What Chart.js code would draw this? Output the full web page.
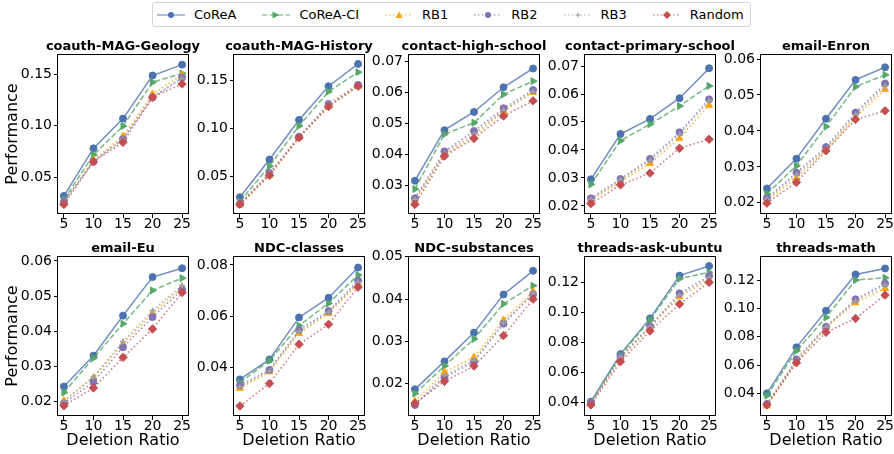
<!DOCTYPE html>
<html lang="en">
<head>
<meta charset="UTF-8">
<title>Deletion Ratio vs Performance</title>
<script src="https://cdn.jsdelivr.net/npm/chart.js"></script>
<style>
  body { margin: 0; background: #fff; width: 894px; height: 454px; position: relative; overflow: hidden; font-family: "DejaVu Sans", sans-serif; }
  canvas { position: absolute; }
  #legend { position: absolute; left: 152px; top: 2px; height: 25px; box-sizing: border-box; display: flex; align-items: center;
            padding: 0 6px 0 4px; border: 1px solid #d6d6d6; border-radius: 3px; font-size: 13px; color: #000; }
  .item { display: flex; align-items: center; margin-right: 26px; }
  .item:last-child { margin-right: 0; }
  .item svg { margin-right: 9px; }
</style>
</head>
<body>
<div id="legend"></div>
<script>
const ratios = [5, 10, 15, 20, 25]
const seriesNames = ["CoReA", "CoReA-CI", "RB1", "RB2", "RB3", "Random"]
const datasetNames = ["coauth-MAG-Geology", "coauth-MAG-History", "contact-high-school", "contact-primary-school", "email-Enron",
  "email-Eu", "NDC-classes", "NDC-substances", "threads-ask-ubuntu", "threads-math"]

// one row per dataset, one value per deletion ratio
const coreA = [
  [0.0316, 0.078, 0.107, 0.149, 0.1596],
  [0.0282, 0.0676, 0.109, 0.1443, 0.1676],
  [0.0314, 0.0478, 0.0537, 0.0617, 0.0678],
  [0.0295, 0.0457, 0.0511, 0.0585, 0.0692],
  [0.024, 0.0323, 0.0434, 0.0542, 0.0577],
  [0.0242, 0.033, 0.0444, 0.0554, 0.0579],
  [0.0353, 0.0431, 0.0595, 0.0672, 0.079],
  [0.0187, 0.0253, 0.0321, 0.0411, 0.0467],
  [0.0407, 0.0724, 0.0962, 0.1247, 0.1311],
  [0.04, 0.0725, 0.0984, 0.124, 0.1282]
]
const coreaCI = [
  [0.028, 0.0717, 0.0997, 0.1425, 0.151],
  [0.0236, 0.0606, 0.1028, 0.1387, 0.159],
  [0.0287, 0.0465, 0.0502, 0.0594, 0.0637],
  [0.0277, 0.0433, 0.0492, 0.0557, 0.0629],
  [0.0225, 0.0303, 0.0412, 0.0523, 0.0556],
  [0.0225, 0.0323, 0.0421, 0.0516, 0.0551],
  [0.0341, 0.0426, 0.0563, 0.065, 0.0761],
  [0.0177, 0.0242, 0.0306, 0.0389, 0.0432],
  [0.04, 0.0718, 0.0951, 0.1227, 0.1269],
  [0.0384, 0.0701, 0.0936, 0.12, 0.1216]
]
const rb1 = [
  [0.0257, 0.0668, 0.0898, 0.131, 0.1497],
  [0.02, 0.051, 0.0905, 0.123, 0.1443],
  [0.0251, 0.0397, 0.0457, 0.054, 0.06],
  [0.0219, 0.0287, 0.0352, 0.0442, 0.056],
  [0.0206, 0.0269, 0.0347, 0.0438, 0.0516],
  [0.0202, 0.0267, 0.0364, 0.045, 0.0526],
  [0.0318, 0.0383, 0.0533, 0.0611, 0.0726],
  [0.0159, 0.0228, 0.0263, 0.0351, 0.0418],
  [0.0391, 0.0696, 0.0902, 0.1107, 0.1218],
  [0.0311, 0.0624, 0.0866, 0.104, 0.1141]
]
const rb2 = [
  [0.026, 0.065, 0.087, 0.1277, 0.147],
  [0.021, 0.0535, 0.0915, 0.1257, 0.1457],
  [0.0257, 0.0409, 0.0475, 0.0549, 0.0608],
  [0.0227, 0.0296, 0.0368, 0.0463, 0.0581],
  [0.0213, 0.0284, 0.0355, 0.0451, 0.0532],
  [0.0194, 0.0255, 0.0354, 0.044, 0.0518],
  [0.033, 0.039, 0.0546, 0.062, 0.0739],
  [0.015, 0.0215, 0.0252, 0.0342, 0.0411],
  [0.0396, 0.0707, 0.0911, 0.1129, 0.1244],
  [0.0325, 0.064, 0.0871, 0.1064, 0.1176]
]
const rb3 = [
  [0.025, 0.066, 0.087, 0.128, 0.146],
  [0.021, 0.053, 0.091, 0.125, 0.146],
  [0.0254, 0.0403, 0.0465, 0.0543, 0.0603],
  [0.0224, 0.0293, 0.0362, 0.0456, 0.0576],
  [0.021, 0.0278, 0.0351, 0.0445, 0.0525],
  [0.0199, 0.027, 0.037, 0.0459, 0.053],
  [0.0324, 0.0386, 0.054, 0.0615, 0.0732],
  [0.0152, 0.022, 0.0256, 0.0345, 0.0414],
  [0.0393, 0.0702, 0.0907, 0.1118, 0.1233],
  [0.0318, 0.0631, 0.0866, 0.1054, 0.1165]
]
const random = [
  [0.0233, 0.065, 0.0839, 0.1277, 0.1408],
  [0.0208, 0.051, 0.0905, 0.123, 0.1443],
  [0.0237, 0.0394, 0.0451, 0.0524, 0.0573],
  [0.0208, 0.0275, 0.0317, 0.0406, 0.0438],
  [0.0199, 0.0257, 0.0345, 0.0432, 0.0456],
  [0.0187, 0.0238, 0.0325, 0.0406, 0.051],
  [0.0249, 0.0337, 0.049, 0.0568, 0.0713],
  [0.0154, 0.0206, 0.0242, 0.0314, 0.04],
  [0.0384, 0.0673, 0.0878, 0.1058, 0.1202],
  [0.0318, 0.0616, 0.0831, 0.0929, 0.1094]
]

// y axis limits and tick labels per dataset
const yMin = [0.014, 0.0106, 0.0206, 0.0171, 0.0169, 0.0158, 0.021, 0.0124, 0.0311, 0.024]
const yMax = [0.170, 0.178, 0.0725, 0.0743, 0.0614, 0.0614, 0.0835, 0.0502, 0.1378, 0.137]
const yTicks = [
  [0.05, 0.10, 0.15],
  [0.05, 0.10, 0.15],
  [0.03, 0.04, 0.05, 0.06, 0.07],
  [0.02, 0.03, 0.04, 0.05, 0.06, 0.07],
  [0.02, 0.03, 0.04, 0.05, 0.06],
  [0.02, 0.03, 0.04, 0.05, 0.06],
  [0.04, 0.06, 0.08],
  [0.02, 0.03, 0.04, 0.05],
  [0.04, 0.06, 0.08, 0.10, 0.12],
  [0.04, 0.06, 0.08, 0.10, 0.12]
]

const allSeries = [coreA, coreaCI, rb1, rb2, rb3, random]
const colors = ["#4c72b0", "#55a868", "#ffa500", "#8172b3", "#a3a3a3", "#c44e52"]
const dashes = [[], [5.5, 2.4], [1.5, 2.5], [1.5, 2.5], [1.5, 2.5], [1.5, 2.5]]
const markers = [
  { style: "circle", r: 3.5, rot: 0 },
  { style: "triangle", r: 4, rot: 90 },
  { style: "triangle", r: 4, rot: 0 },
  { style: "circle", r: 3.5, rot: 0 },
  { style: "cross", r: 3, rot: 0 },
  { style: "rectRot", r: 4.2, rot: 0 }
]

Chart.defaults.font.family = "'DejaVu Sans', sans-serif"
Chart.defaults.color = "#000"

function alpha(hex, a) {
  const n = parseInt(hex.slice(1), 16)
  return `rgba(${n >> 16}, ${(n >> 8) & 255}, ${n & 255}, ${a})`
}

// full box around each axes, like matplotlib spines
const frame = {
  id: "frame",
  afterDraw(chart) {
    const { ctx, chartArea: a } = chart
    ctx.save()
    ctx.strokeStyle = "#000"
    ctx.lineWidth = 1
    ctx.strokeRect(Math.round(a.left) - 0.5, Math.round(a.top) + 0.5, Math.round(a.right - a.left) + 1, Math.round(a.bottom - a.top) - 1)
    ctx.restore()
  }
}

const colLeft = [58, 234, 409, 585, 761]
const rowTop = [54, 256]
const plotW = 130
const plotH = 160

datasetNames.forEach((name, i) => {
  const col = i % 5
  const row = Math.floor(i / 5)
  const yw = col === 0 ? 58 : 50
  const xh = row === 1 ? 34 : 24
  const canvas = document.createElement("canvas")
  canvas.width = yw * 2 + plotW
  canvas.height = 24 + plotH + xh
  canvas.style.left = (colLeft[col] - yw) + "px"
  canvas.style.top = (rowTop[row] - 24) + "px"
  document.body.appendChild(canvas)

  new Chart(canvas, {
    type: "line",
    data: {
      datasets: allSeries.map((s, k) => ({
        label: seriesNames[k],
        data: ratios.map((x, j) => ({ x, y: s[i][j] })),
        yAxisID: "y",
        borderColor: alpha(colors[k], 0.8),
        backgroundColor: colors[k],
        borderWidth: 1.5,
        borderDash: dashes[k],
        pointStyle: markers[k].style,
        pointRadius: markers[k].r,
        pointRotation: markers[k].rot,
        pointBackgroundColor: colors[k],
        pointBorderColor: colors[k],
        pointBorderWidth: k === 4 ? 1.5 : 1,
        tension: 0,
        order: 5 - k
      }))
    },
    options: {
      responsive: false,
      animation: false,
      devicePixelRatio: 1,
      layout: { padding: 0 },
      plugins: {
        legend: { display: false },
        tooltip: { enabled: false },
        title: {
          display: true,
          text: name,
          color: "#000",
          font: { size: 13, weight: "bold" },
          padding: { top: 8.4, bottom: 0 }
        }
      },
      scales: {
        x: {
          type: "linear",
          min: 4,
          max: 26,
          afterBuildTicks: (s) => { s.ticks = ratios.map((v) => ({ value: v })) },
          afterFit: (s) => { s.height = xh },
          ticks: { font: { size: 14 }, color: "#000", padding: -2, maxRotation: 0, autoSkip: false },
          grid: { drawOnChartArea: false, color: "#000", tickLength: 4 },
          border: { display: false },
          title: { display: row === 1, text: "Deletion Ratio", font: { size: 16 }, color: "#000", padding: 0 }
        },
        y: {
          type: "linear",
          position: "left",
          min: yMin[i],
          max: yMax[i],
          afterBuildTicks: (s) => { s.ticks = yTicks[i].map((v) => ({ value: v })) },
          afterFit: (s) => { s.width = yw },
          ticks: { font: { size: 14 }, color: "#000", padding: 2, callback: (v) => v.toFixed(2) },
          grid: { drawOnChartArea: false, color: "#000", tickLength: 4 },
          border: { display: false },
          title: { display: col === 0, text: "Performance", font: { size: 16 }, color: "#000", padding: { top: 3, bottom: 0 } }
        },
        // empty right-hand axis, keeps the title centred over the plot
        spacer: {
          type: "linear",
          position: "right",
          min: 0,
          max: 1,
          ticks: { display: false },
          grid: { display: false },
          border: { display: false },
          afterFit: (s) => { s.width = yw }
        }
      }
    },
    plugins: [frame]
  })
})

// legend samples
function sample(k) {
  const c = colors[k]
  const dash = dashes[k].length ? `stroke-dasharray="${dashes[k].join(" ")}"` : ""
  let mark = ""
  if (k === 0 || k === 3) mark = `<circle cx="14" cy="6" r="3" fill="${c}"/>`
  else if (k === 1) mark = `<polygon points="10.5,2.5 17.5,6 10.5,9.5" fill="${c}"/>`
  else if (k === 2) mark = `<polygon points="14,2.5 17.5,9 10.5,9" fill="${c}"/>`
  else if (k === 4) mark = `<path d="M14 3.5 V8.5 M11.5 6 H16.5" stroke="${c}" stroke-width="1.2"/>`
  else mark = `<polygon points="14,2 18,6 14,10 10,6" fill="${c}"/>`
  return `<svg width="28" height="12"><line x1="0" y1="6" x2="28" y2="6" stroke="${c}" stroke-opacity="0.6" stroke-width="1.5" ${dash}/>${mark}</svg>`
}
const legend = document.getElementById("legend")
seriesNames.forEach((n, k) => {
  const item = document.createElement("div")
  item.className = "item"
  item.innerHTML = sample(k) + `<span>${n}</span>`
  legend.appendChild(item)
})
</script>
</body>
</html>
